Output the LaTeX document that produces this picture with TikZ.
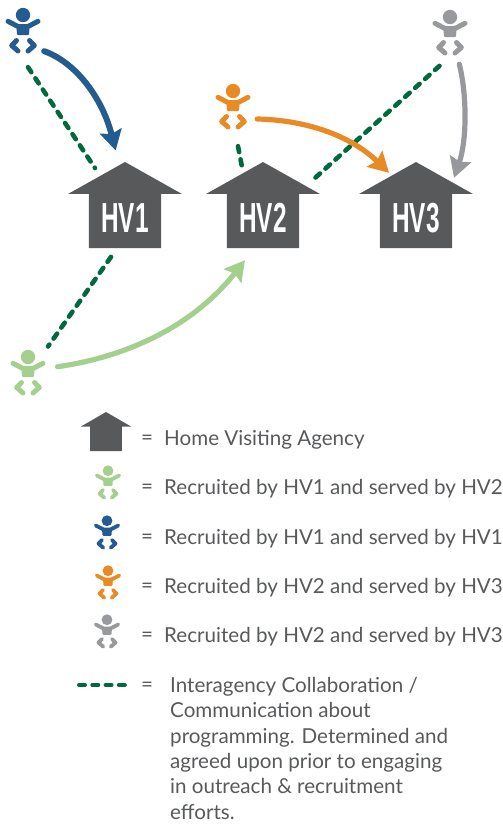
\documentclass[tikz,border=0pt]{standalone}
\usepackage{fontspec}
\setmainfont{Lato}
\newfontfamily\hvfont[FakeStretch=0.58]{Liberation Sans}
\definecolor{HouseGray}{HTML}{58595B}
\definecolor{BabyBlue}{HTML}{245C92}
\definecolor{BabyOrange}{HTML}{E98B25}
\definecolor{BabyGray}{HTML}{97999C}
\definecolor{BabyGreen}{HTML}{A5CF8E}
\definecolor{CollabGreen}{HTML}{00693E}
\usetikzlibrary{arrows.meta, calc}
\tikzset{
  % House styles
  housebox/.style={inner sep=0pt, minimum width=114pt, text=white, text height=70pt, text depth=16pt, font=\hvfont\bfseries\fontsize{42}{42}\selectfont,
    path picture={
      \fill[HouseGray] let \p1=(path picture bounding box.south west), \p2=(path picture bounding box.north east), \n1={\x2-\x1}, \n2={\y2-\y1} in
        (\x1+.5*\n1,\y2) -- (\x2,\y2-.372*\n2) -- (\x1+.816*\n1,\y2-.372*\n2) -- (\x1+.816*\n1,\y1) -- (\x1+.184*\n1,\y1) -- (\x1+.184*\n1,\y2-.372*\n2) -- (\x1,\y2-.372*\n2) -- cycle;
    }},
  legendhouse/.style={housebox, minimum width=50pt, text height=39pt, text depth=0pt},
  % Baby styles
  babynode/.style={inner sep=0pt, minimum width=36pt, minimum height=46pt},
  legendbaby/.style={inner sep=0pt, minimum width=27pt, minimum height=35pt},
  babypic/.style={line width=5pt},
  babysmall/.style={scale=.75, line width=3.8pt},
  pics/baby/.style={code={
    \fill (0,-15) circle (7.2);
    \fill[rounded corners=1pt] (-6.7,-6) -- (6.7,-6) -- (6,5) -- (-6,5) -- cycle;
    \draw[line cap=round, line join=round] (-15,-8.7) -- (-5,-3.5);
    \draw[line cap=round, line join=round] (15,-8.7) -- (5,-3.5);
    \draw[line join=round, line cap=round] (-6.5,10.5) -- (-11.3,15.5) -- (-5,21);
    \draw[line join=round, line cap=round] (6.5,10.5) -- (11.3,15.5) -- (5,21);
  }},
  % Arrow styles
  recruitarrow/.style={line width=5.2pt, line cap=round, -{Stealth[length=20pt, width=22pt, inset=3pt]}},
  collabline/.style={line width=4.6pt, CollabGreen, line cap=round, dash pattern=on 6pt off 7.4pt},
  % Text styles
  legendtext/.style={anchor=west, inner sep=0pt, text=HouseGray, font=\fontsize{20.6}{25.4}\selectfont},
  equalsign/.style={legendtext, anchor=center}
}
\begin{document}
\begin{tikzpicture}[x=1pt, y=-1pt]
  \useasboundingbox (0,0) rectangle (503,825);

  % Agencies
  \node[housebox] (hvone) at (125,205) {HV1};
  \node[housebox] (hvtwo) at (263,205) {HV2};
  \node[housebox] (hvthree) at (416,205) {HV3};

  % Families
  \node[babynode] (babyblue) at (23,30) {};
  \pic[babypic, color=BabyBlue] at (babyblue) {baby};
  \node[babynode] (babyorange) at (233,106) {};
  \pic[babypic, color=BabyOrange] at (babyorange) {baby};
  \node[babynode] (babygray) at (450,32) {};
  \pic[babypic, color=BabyGray] at (babygray) {baby};
  \node[babynode] (babygreen) at (28,372) {};
  \pic[babypic, color=BabyGreen] at (babygreen) {baby};

  % Collaboration
  \draw[collabline] ([shift={(5,14)}]babyblue.south) -- ([shift={(-30,6.3)}]hvone.north);
  \draw[collabline] ([shift={(5,17)}]babyorange.south) -- ([shift={(-21.3,3.7)}]hvtwo.north);
  \draw[collabline] ([shift={(-10.5,10.7)}]babygray.south) -- ([shift={(50,18)}]hvtwo.north);
  \draw[collabline] ([shift={(-14,8.7)}]hvone.south) -- ([shift={(20,-2.3)}]babygreen.north);

  % Recruitment
  \draw[recruitarrow, BabyBlue, line width=6pt] ([shift={(3,-2)}]babyblue.south east) .. controls (75,62) and (102,97) .. ([shift={(-9.3,-11.3)}]hvone.north);
  \draw[recruitarrow, BabyOrange] ([shift={(6,13)}]babyorange.east) .. controls (305,120) and (350,135) .. ([shift={(-27,11)}]hvthree.north);
  \draw[recruitarrow, BabyGray] ([shift={(9.3,9)}]babygray.south) .. controls (467,95) and (467,140) .. ([shift={(38,16)}]hvthree.north);
  \draw[recruitarrow, BabyGreen] ([shift={(11.3,-5.3)}]babygreen.east) .. controls (120,358) and (190,330) .. ([shift={(-18,12)}]hvtwo.south);

  % Legend
  \node[legendhouse] (keyhouse) at (106,431.5) {};
  \node[equalsign] (eqhouse) at (147,440) {=};
  \node[legendtext] (txthouse) at (164,440) {Home Visiting Agency};

  \node[legendbaby] (keygreen) at (108,482) {};
  \pic[babysmall, color=BabyGreen] at (keygreen) {baby};
  \node[equalsign] (eqgreen) at (147,489) {=};
  \node[legendtext] (txtgreen) at (164,489) {Recruited by HV1 and served by HV2};

  \node[legendbaby] (keyblue) at (107,532) {};
  \pic[babysmall, color=BabyBlue] at (keyblue) {baby};
  \node[equalsign] (eqblue) at (147,539) {=};
  \node[legendtext] (txtblue) at (164,539) {Recruited by HV1 and served by HV1};

  \node[legendbaby] (keyorange) at (108,582) {};
  \pic[babysmall, color=BabyOrange] at (keyorange) {baby};
  \node[equalsign] (eqorange) at (147,588) {=};
  \node[legendtext] (txtorange) at (164,588) {Recruited by HV2 and served by HV3};

  \node[legendbaby] (keygray) at (107,631) {};
  \pic[babysmall, color=BabyGray] at (keygray) {baby};
  \node[equalsign] (eqgray) at (147,637) {=};
  \node[legendtext] (txtgray) at (164,637) {Recruited by HV2 and served by HV3};

  \coordinate (keydashstart) at (79,685);
  \coordinate (keydashend) at (124.9,685);
  \draw[collabline, line width=4pt, dash pattern=on 6pt off 7.3pt] (keydashstart) -- (keydashend);
  \node[equalsign] (eqcollab) at (147,687) {=};
  \node[legendtext, anchor=north west, align=left] (txtcollab) at (170,677) {Interagency Collaboration /\\Communication about\\programming. Determined and\\agreed upon prior to engaging\\in outreach \& recruitment\\efforts.};
\end{tikzpicture}
\end{document}
